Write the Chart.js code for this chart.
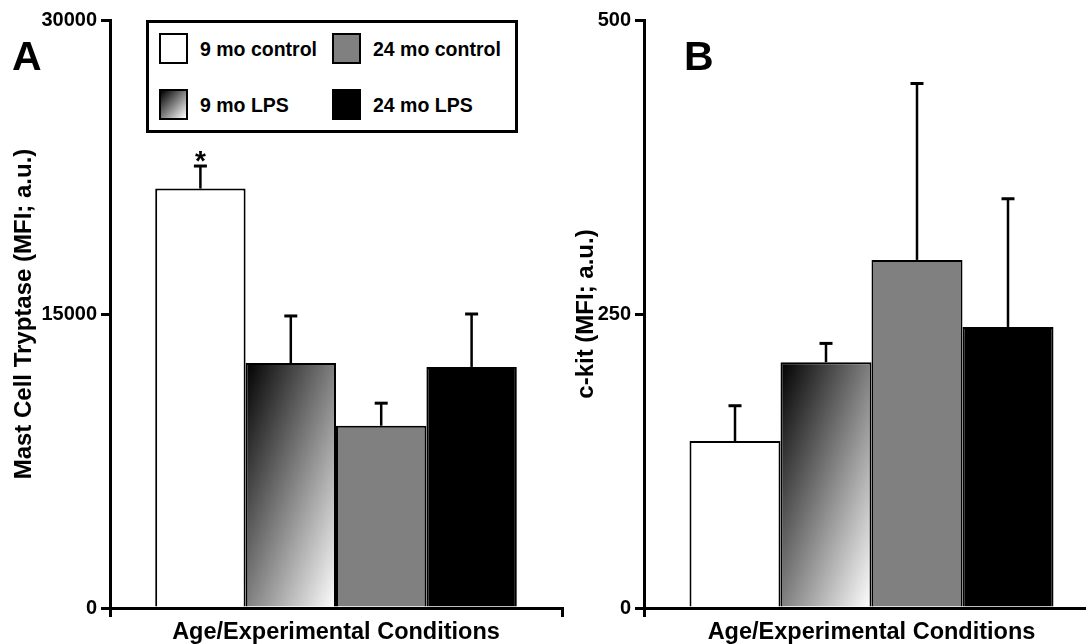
<!DOCTYPE html>
<html>
<head>
<meta charset="utf-8">
<script src="https://cdn.jsdelivr.net/npm/chart.js@4/dist/chart.umd.min.js"></script>
<style>
body { margin: 0; background: #fff; width: 1086px; height: 644px; overflow: hidden; position: relative; font-family: "Liberation Sans", Arial, sans-serif; }
canvas { position: absolute; top: 0; }
#legend { position: absolute; left: 146px; top: 20px; width: 366px; height: 107px; border: 3px solid #000; background: #fff; }
.sw { position: absolute; width: 25px; height: 27px; border: 2px solid #000; }
.lb { position: absolute; font-weight: bold; font-size: 19.5px; line-height: 20px; white-space: nowrap; }
</style>
</head>
<body>
<canvas id="chartA" width="566" height="644" style="left:0"></canvas>
<canvas id="chartB" width="540" height="644" style="left:565px"></canvas>
<div id="legend"></div>
<script>
// groups (legend order = bar order)
const groups = ['9 mo control', '9 mo LPS', '24 mo control', '24 mo LPS'];
// panel A: mast cell tryptase, mean and SEM
const tryptaseMean = [21400, 12500, 9300, 12300];
const tryptaseErr = [1150, 2400, 1150, 2700];
const tryptaseTicks = [0, 15000, 30000];
// panel B: c-kit, mean and SEM
const ckitMean = [142, 209, 296, 239];
const ckitErr = [30, 16, 150, 109];
const ckitTicks = [0, 250, 500];
const xTitle = 'Age/Experimental Conditions';

Chart.defaults.font.family = '"Liberation Sans", Arial, sans-serif';
Chart.defaults.color = '#000';

const FONT = '"Liberation Sans", Arial, sans-serif';
const fills = ['#ffffff', null, '#808080', '#000000'];
const CAT = 0.8;

// diagonal black -> white, like css "to bottom right"
function lpsGradient(chart, i, value) {
  const xs = chart.scales.x, ys = chart.scales.y;
  if (!xs || !ys) return '#808080';
  const groupW = xs.width * CAT;
  const w = groupW / groups.length;
  const left = xs.getPixelForValue(0) - groupW / 2 + i * w;
  const top = ys.getPixelForValue(value);
  const h = ys.getPixelForValue(0) - top;
  if (![w, h, left, top].every(Number.isFinite) || w <= 0 || h <= 0) return '#808080';
  const cx = left + w / 2, cy = top + h / 2;
  const d = Math.hypot(w, h);
  const L = w * h / d;
  const dx = h / d * L, dy = w / d * L;
  const g = chart.ctx.createLinearGradient(cx - dx, cy - dy, cx + dx, cy + dy);
  g.addColorStop(0, '#000');
  g.addColorStop(1, '#fff');
  return g;
}

const errorBars = {
  id: 'errorBars',
  afterDatasetsDraw(chart, args, opts) {
    const ctx = chart.ctx, ys = chart.scales.y;
    ctx.save();
    ctx.strokeStyle = '#000';
    ctx.fillStyle = '#000';
    chart.data.datasets.forEach((ds, i) => {
      const bar = chart.getDatasetMeta(i).data[0];
      const yTop = ys.getPixelForValue(ds.data[0] + ds.err);
      ctx.lineWidth = 2.5;
      ctx.beginPath();
      ctx.moveTo(bar.x, bar.y);
      ctx.lineTo(bar.x, yTop);
      ctx.stroke();
      ctx.lineWidth = 3;
      ctx.beginPath();
      ctx.moveTo(bar.x - 6.5, yTop);
      ctx.lineTo(bar.x + 6.5, yTop);
      ctx.stroke();
      if (ds.star) {
        ctx.font = 'bold 28px ' + FONT;
        ctx.textAlign = 'center';
        ctx.textBaseline = 'alphabetic';
        ctx.fillText('*', bar.x, yTop + 4);
      }
    });
    ctx.font = 'bold 41px ' + FONT;
    ctx.textAlign = 'left';
    ctx.textBaseline = 'alphabetic';
    ctx.fillText(opts.letter, opts.lx, 70);
    ctx.restore();
  }
};

function makeChart(id, means, errs, ticks, yTitle, letter, lx, yWidth, yTitlePad, rightPad, starIdx) {
  const chart = new Chart(document.getElementById(id), {
    type: 'bar',
    data: {
      labels: [''],
      datasets: groups.map((g, i) => ({
        label: g,
        data: [means[i]],
        err: errs[i],
        star: i === starIdx,
        backgroundColor: fills[i] || (c => lpsGradient(c.chart, i, means[i])),
        borderColor: '#000',
        borderWidth: 2,
        categoryPercentage: CAT,
        barPercentage: 1
      }))
    },
    options: {
      responsive: false,
      animation: false,
      devicePixelRatio: 1,
      layout: { padding: { top: 20, right: rightPad, left: 0, bottom: 0 } },
      plugins: {
        legend: { display: false },
        tooltip: { enabled: false },
        errorBars: { letter: letter, lx: lx }
      },
      scales: {
        x: {
          grid: { offset: true, drawOnChartArea: false, tickLength: 9, lineWidth: 3, color: '#000' },
          border: { width: 3, color: '#000' },
          ticks: { display: false },
          title: { display: true, text: xTitle, color: '#000', padding: 0,
                   font: { size: 23.5, weight: 'bold', lineHeight: 1 } },
          afterFit: s => { s.height = 36; }
        },
        y: {
          min: ticks[0],
          max: ticks[ticks.length - 1],
          afterBuildTicks: s => { s.ticks = ticks.map(v => ({ value: v })); },
          grid: { drawOnChartArea: false, tickLength: 9, lineWidth: 3, color: '#000' },
          border: { width: 3, color: '#000' },
          ticks: { padding: 4, color: '#000', font: { size: 20, weight: 'bold' },
                   callback: v => String(v) },
          title: { display: true, text: yTitle, color: '#000', padding: { top: yTitlePad, bottom: 0 },
                   font: { size: 24, weight: 'bold', lineHeight: 1 } },
          afterFit: s => { s.width = yWidth; }
        }
      }
    },
    plugins: [errorBars]
  });
  chart.update();
  return chart;
}

const chartA = makeChart('chartA', tryptaseMean, tryptaseErr, tryptaseTicks,
  'Mast Cell Tryptase (MFI; a.u.)', 'A', 12, 110, 12.5, 4, 0);
const chartB = makeChart('chartB', ckitMean, ckitErr, ckitTicks,
  'c-kit (MFI; a.u.)', 'B', 119, 79, 9.5, 6, -1);

// boxed legend, 2 columns
const legend = document.getElementById('legend');
const cols = [10, 183], rows = [10, 66];
const order = [0, 2, 1, 3];
order.forEach((gi, k) => {
  const col = cols[k % 2], row = rows[Math.floor(k / 2)];
  const sw = document.createElement('div');
  sw.className = 'sw';
  sw.style.left = col + 'px';
  sw.style.top = row + 'px';
  sw.style.background = fills[gi] || 'linear-gradient(to bottom right, #000, #fff)';
  legend.appendChild(sw);
  const lb = document.createElement('div');
  lb.className = 'lb';
  lb.style.left = (col + 41) + 'px';
  lb.style.top = (row + 5.5) + 'px';
  lb.textContent = groups[gi];
  legend.appendChild(lb);
});
</script>
</body>
</html>
